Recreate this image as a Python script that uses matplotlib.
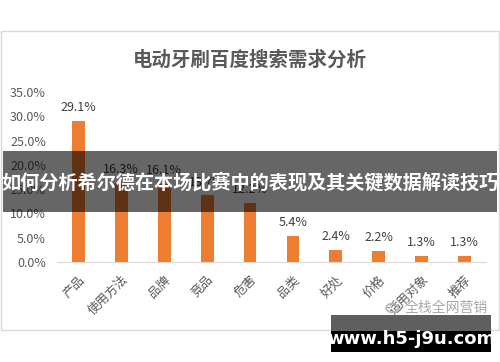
import matplotlib
matplotlib.use('Agg')
import matplotlib.pyplot as plt
from matplotlib.patches import Rectangle, Circle

plt.rcParams['font.family'] = ['Noto Sans CJK SC', 'DejaVu Sans']

categories = ['产品', '使用方法', '品牌', '竞品', '危害', '品类', '好处', '价格', '适用对象', '推荐']
values = [29.1, 16.3, 16.1, 13.7, 12.2, 5.4, 2.4, 2.2, 1.3, 1.3]
yticks = [0, 5, 10, 15, 20, 25, 30, 35]

fig = plt.figure(figsize=(5, 3.62), dpi=100, facecolor='white')

# chart frame
fig.patches.append(Rectangle((0.002, 1 - 330 / 362), 0.995, (330 - 31) / 362, transform=fig.transFigure,
                             fill=False, edgecolor='#d9d9d9', linewidth=1.0))

ax = fig.add_axes([57 / 500, 1 - 262 / 362, 429 / 500, 170 / 362])
x = range(len(categories))
bars = ax.bar(x, values, width=0.3, color='#ED7D31')
for b, v in zip(bars, values):
    ax.annotate('%.1f%%' % v, (b.get_x() + b.get_width() / 2, v), xytext=(0, 5),
                textcoords='offset points', ha='center', va='bottom', fontsize=9, color='#404040')

ax.set_xlim(-0.5, len(categories) - 0.5)
ax.set_ylim(0, 35)
ax.set_yticks(yticks)
ax.set_yticklabels(['%.1f%%' % t for t in yticks], fontsize=9, color='#595959')
ax.set_xticks(list(x))
ax.set_xticklabels(categories, rotation=45, ha='right', va='top', rotation_mode='anchor',
                   fontsize=9, color='#595959')
ax.tick_params(axis='both', length=0, pad=8)
for s in ['top', 'right', 'left']:
    ax.spines[s].set_visible(False)
ax.spines['bottom'].set_color('#d9d9d9')
ax.set_facecolor('none')

fig.text(0.5, 1 - 60 / 362, '电动牙刷百度搜索需求分析', ha='center', va='center',
         fontsize=14, fontweight='bold', color='#595959')

# watermark
fig.patches.append(Circle((392 / 500, 1 - 308 / 362), 0.012, transform=fig.transFigure,
                          fill=False, edgecolor='#b8b8b8', linewidth=1.2))
fig.text(446 / 500, 1 - 308 / 362, '全栈全网营销', ha='center', va='center', fontsize=10, color='#a8a8a8')

# overlay banner
fig.patches.append(Rectangle((3 / 500, 1 - 212 / 362), 494 / 500, 61 / 362, transform=fig.transFigure,
                             facecolor='black', alpha=0.6, edgecolor='none', zorder=5))
fig.text(0.5, 1 - 182 / 362, '如何分析希尔德在本场比赛中的表现及其关键数据解读技巧', ha='center', va='center',
         fontsize=13.8, fontweight='bold', color='white', zorder=6)

# url box
fig.patches.append(Rectangle((331 / 500, 1 - 331 / 362), 160 / 500, 16 / 362, transform=fig.transFigure,
                             facecolor='#5f5f5f', edgecolor='none', zorder=5))
fig.patches.append(Rectangle((331 / 500, 1 - 352 / 362), 160 / 500, 21 / 362, transform=fig.transFigure,
                             facecolor='black', edgecolor='none', zorder=5))
fig.text(411 / 500, 1 - 339 / 362, 'www.h5-j9u.com', ha='center', va='center',
         fontsize=13, fontweight='bold', color='white', zorder=6, family=['DejaVu Sans'])

fig.savefig('out.png', dpi=100)
